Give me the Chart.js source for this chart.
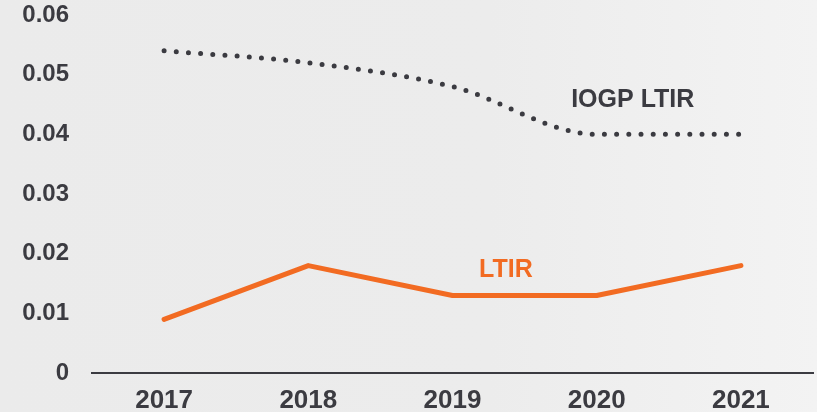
<!DOCTYPE html>
<html>
<head>
<meta charset="utf-8">
<script src="https://cdn.jsdelivr.net/npm/chart.js@4/dist/chart.umd.min.js"></script>
<style>
  html, body { margin: 0; padding: 0; background: #ececec; }
  #wrap { width: 817px; height: 412px; }
</style>
</head>
<body>
<div id="wrap"><canvas id="myChart" width="817" height="412"></canvas></div>
<script>
// chart values
const years = ["2017", "2018", "2019", "2020", "2021"];
const ltir = [0.009, 0.018, 0.013, 0.013, 0.018];
const iogpLtir = [0.054, 0.052, 0.048, 0.040, 0.040];
const yTicks = [0, 0.01, 0.02, 0.03, 0.04, 0.05, 0.06];

const darkText = "#3b3b41";
const orange = "#f26b22";

// soft grey background, a little lighter on the right side
const bgPlugin = {
    id: "bg",
    beforeDraw(chart) {
        const ctx = chart.ctx;
        const g = ctx.createLinearGradient(0, 0, chart.width, 0);
        g.addColorStop(0, "#ebebeb");
        g.addColorStop(0.6, "#ececec");
        g.addColorStop(1, "#f3f3f3");
        ctx.save();
        ctx.fillStyle = g;
        ctx.fillRect(0, 0, chart.width, chart.height);
        ctx.restore();
    }
};

// series names written next to the lines
const seriesLabels = {
    id: "seriesLabels",
    afterDatasetsDraw(chart) {
        const ctx = chart.ctx;
        const x = chart.scales.x, y = chart.scales.y;
        ctx.save();
        ctx.font = "bold 25px 'Liberation Sans', Arial, sans-serif";
        ctx.textAlign = "center";
        ctx.textBaseline = "middle";
        ctx.fillStyle = darkText;
        ctx.fillText("IOGP LTIR", x.getPixelForValue(3.25), y.getPixelForValue(0.0457));
        ctx.fillStyle = orange;
        ctx.fillText("LTIR", x.getPixelForValue(2.37), y.getPixelForValue(0.0172));
        ctx.restore();
    }
};

const ctx = document.getElementById("myChart");
const myChart = new Chart(ctx, {
    type: "line",
    data: {
        labels: years,
        datasets: [{
            label: "IOGP LTIR",
            data: iogpLtir,
            borderColor: darkText,
            borderWidth: 5,
            borderDash: [0, 12.2],
            borderCapStyle: "round",
            cubicInterpolationMode: "monotone",
            pointRadius: 0
        }, {
            label: "LTIR",
            data: ltir,
            borderColor: orange,
            borderWidth: 5,
            borderCapStyle: "round",
            borderJoinStyle: "round",
            tension: 0,
            pointRadius: 0
        }]
    },
    options: {
        responsive: false,
        animation: false,
        layout: { padding: { top: 15, right: 4, left: 0, bottom: 0 } },
        plugins: {
            legend: { display: false },
            tooltip: { enabled: false }
        },
        scales: {
            x: {
                offset: true,
                grid: { display: false, drawTicks: false },
                border: { display: true, color: darkText, width: 2 },
                ticks: {
                    color: darkText,
                    padding: 12,
                    font: { family: "'Liberation Sans', Arial, sans-serif", size: 26, weight: "bold" }
                },
                afterFit(scale) { scale.height = 39; scale.paddingLeft = 0; scale.paddingRight = 0; }
            },
            y: {
                min: 0,
                max: 0.06,
                grid: { display: false, drawTicks: false },
                border: { display: false },
                afterBuildTicks(scale) { scale.ticks = yTicks.map(v => ({ value: v })); },
                ticks: {
                    color: darkText,
                    padding: 23,
                    font: { family: "'Liberation Sans', Arial, sans-serif", size: 24, weight: "bold" },
                    callback: v => String(+v.toFixed(2))
                },
                afterFit(scale) { scale.width = 92; scale.paddingTop = 0; scale.paddingBottom = 0; }
            }
        }
    },
    plugins: [bgPlugin, seriesLabels]
});
</script>
</body>
</html>
